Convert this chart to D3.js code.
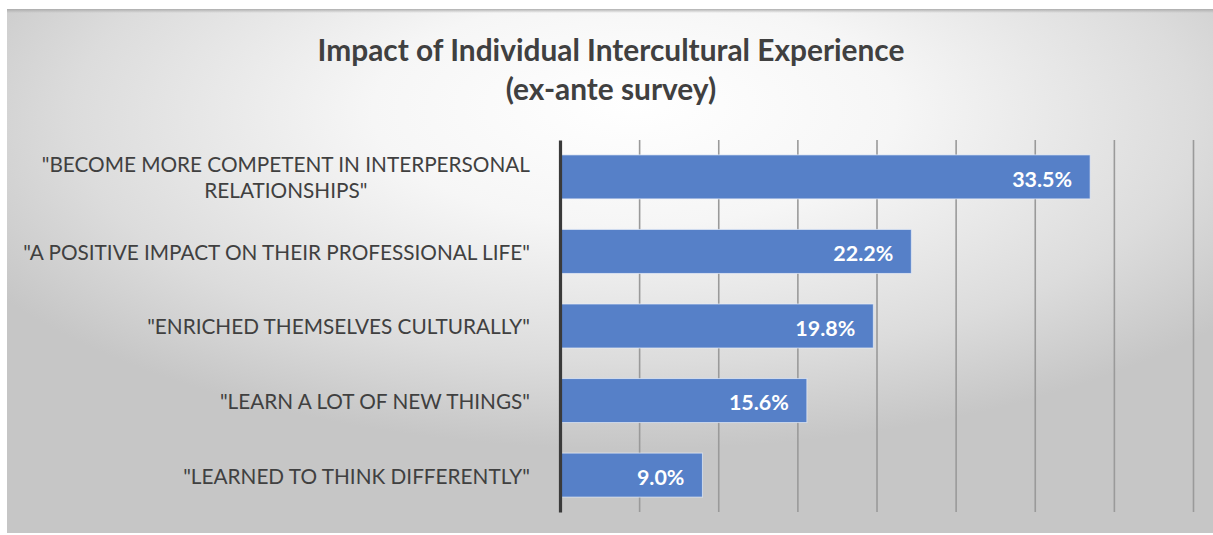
<!DOCTYPE html>
<html>
<head>
<meta charset="utf-8">
<script src="https://cdn.jsdelivr.net/npm/d3@7"></script>
<style>
  html, body { margin: 0; padding: 0; background: #ffffff; }
  svg { display: block; }
</style>
</head>
<body>
<svg id="chart" width="1213" height="535"></svg>
<script>
// Survey answers, top to bottom
const categories = [
  ["\"BECOME MORE COMPETENT IN INTERPERSONAL", "RELATIONSHIPS\""],
  ["\"A POSITIVE IMPACT ON THEIR PROFESSIONAL LIFE\""],
  ["\"ENRICHED THEMSELVES CULTURALLY\""],
  ["\"LEARN A LOT OF NEW THINGS\""],
  ["\"LEARNED TO THINK DIFFERENTLY\""]
];
const values = [33.5, 22.2, 19.8, 15.6, 9.0];
const valueLabels = ["33.5%", "22.2%", "19.8%", "15.6%", "9.0%"];
const xTicks = [0, 5, 10, 15, 20, 25, 30, 35, 40];
const titleLines = ["Impact of Individual Intercultural Experience", "(ex-ante survey)"];

const W = 1213, H = 535;
const svg = d3.select("#chart");
const defs = svg.append("defs");

// Panel background: light centre fading to grey at the edges
const rg = defs.append("radialGradient")
  .attr("id", "bg").attr("cx", "52%").attr("cy", "22%").attr("r", "62%")
  .attr("fx", "52%").attr("fy", "18%");
rg.append("stop").attr("offset", "0%").attr("stop-color", "#ffffff");
rg.append("stop").attr("offset", "35%").attr("stop-color", "#f6f6f6");
rg.append("stop").attr("offset", "75%").attr("stop-color", "#dcdcdc");
rg.append("stop").attr("offset", "100%").attr("stop-color", "#c6c6c6");

const topShade = defs.append("linearGradient")
  .attr("id", "topShade").attr("x1", 0).attr("y1", 0).attr("x2", 0).attr("y2", 1);
topShade.append("stop").attr("offset", "0%").attr("stop-color", "#a8a8a8").attr("stop-opacity", 0.9);
topShade.append("stop").attr("offset", "100%").attr("stop-color", "#a8a8a8").attr("stop-opacity", 0);

const panel = { x: 7, y: 9, w: W - 7, h: 524 };
svg.append("rect").attr("x", panel.x).attr("y", panel.y)
  .attr("width", panel.w).attr("height", panel.h).attr("fill", "url(#bg)");
svg.append("rect").attr("x", panel.x).attr("y", panel.y)
  .attr("width", panel.w).attr("height", 4).attr("fill", "url(#topShade)");

// Plot area
const plot = { left: 560, right: 1193, top: 140, bottom: 512 };

const x = d3.scaleLinear().domain([0, 40]).range([plot.left, plot.right]);
const y = d3.scaleBand().domain(d3.range(values.length))
  .range([plot.top, plot.bottom]).paddingInner(0.41).paddingOuter(0.2);

// Vertical gridlines
svg.append("g")
  .attr("transform", `translate(0,${plot.bottom})`)
  .call(d3.axisBottom(x).tickValues(xTicks.slice(1)).tickSize(-(plot.bottom - plot.top)).tickFormat(""))
  .call(g => g.select(".domain").remove())
  .call(g => g.selectAll(".tick line").attr("stroke", "#9a9a9a").attr("stroke-width", 1.6));

// Bars
svg.append("g").selectAll("rect").data(values).join("rect")
  .attr("x", x(0))
  .attr("y", (d, i) => y(i))
  .attr("width", d => x(d) - x(0))
  .attr("height", y.bandwidth())
  .attr("fill", "#5680c8")
  .attr("stroke", "#e8eef8").attr("stroke-width", 1).attr("stroke-opacity", 0.7);

// Category axis line
svg.append("g")
  .attr("transform", `translate(${x(0)},0)`)
  .call(d3.axisLeft(y).tickSize(0).tickFormat(""))
  .call(g => g.select(".domain").attr("stroke", "#3a3a3a").attr("stroke-width", 3.2));

// Fit a font size so that a reference string spans a given width
function fitSize(text, family, weight, target, start) {
  const t = svg.append("text").attr("font-family", family).attr("font-weight", weight)
    .attr("font-size", start).text(text);
  const w = t.node().getComputedTextLength();
  t.remove();
  return start * target / w;
}

const labelFont = "Lato, 'Open Sans', sans-serif";
const labelSize = fitSize(categories[1][0], labelFont, 400, 507, 20);

// Category labels: right-aligned block, wrapped lines centred on each other
const labelRight = 530;
const lab = svg.append("g").attr("font-family", labelFont).attr("font-size", labelSize)
  .attr("fill", "#404040");
categories.forEach((lines, i) => {
  const cy = y(i) + y.bandwidth() / 2;
  const lineH = 26;
  // widest line sets the block width
  const probe = lab.append("text").text(lines.reduce((a, b) => a.length >= b.length ? a : b));
  const bw = probe.node().getComputedTextLength();
  probe.remove();
  const cx = lines.length > 1 ? labelRight - bw / 2 : labelRight;
  lines.forEach((ln, k) => {
    lab.append("text")
      .attr("x", cx)
      .attr("y", cy + 1 + (k - (lines.length - 1) / 2) * lineH)
      .attr("dy", "0.36em")
      .attr("text-anchor", lines.length > 1 ? "middle" : "end")
      .text(ln);
  });
});

// Value labels inside the bar ends
const valFont = "Lato, 'Open Sans', sans-serif";
const valSize = fitSize("33.5%", valFont, 700, 60, 18);
svg.append("g").selectAll("text").data(values).join("text")
  .attr("x", d => x(d) - 18)
  .attr("y", (d, i) => y(i) + y.bandwidth() / 2 + 2)
  .attr("dy", "0.36em")
  .attr("text-anchor", "end")
  .attr("font-family", valFont).attr("font-weight", 700).attr("font-size", valSize)
  .attr("fill", "#ffffff")
  .text((d, i) => valueLabels[i]);

// Title
const titleFont = "Lato, 'Open Sans', sans-serif";
const titleSize = fitSize(titleLines[0], titleFont, 700, 587, 24);
svg.append("g").selectAll("text").data(titleLines).join("text")
  .attr("x", 611)
  .attr("y", (d, i) => 61 + i * 39)
  .attr("text-anchor", "middle")
  .attr("font-family", titleFont).attr("font-weight", 700).attr("font-size", titleSize)
  .attr("fill", "#404040")
  .text(d => d);
</script>
</body>
</html>
